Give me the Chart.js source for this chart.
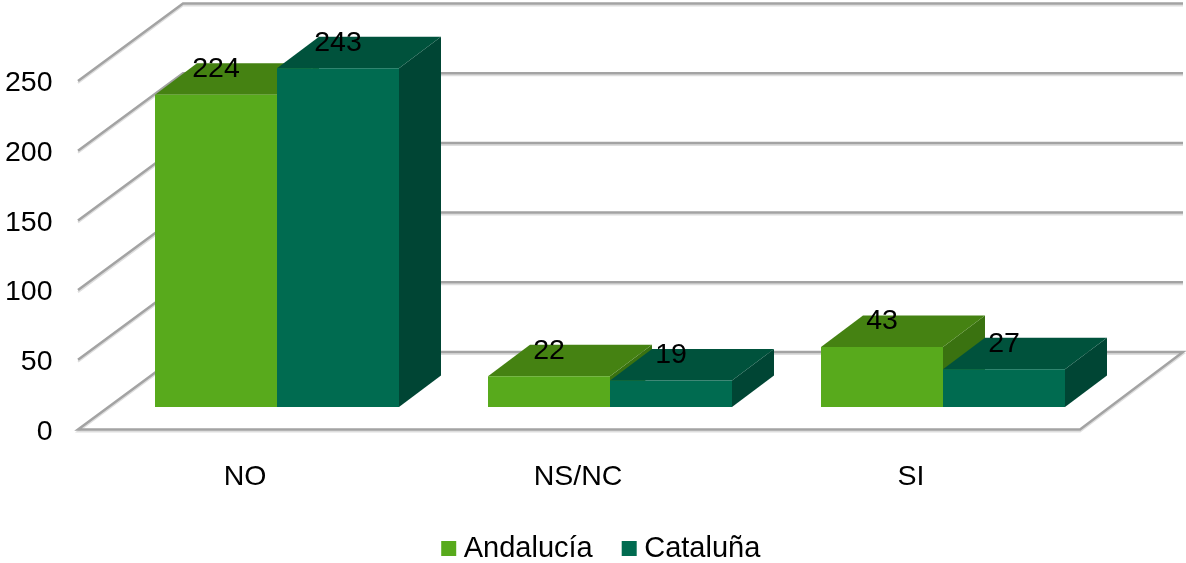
<!DOCTYPE html>
<html lang="es">
<head>
<meta charset="utf-8">
<title>Andalucía / Cataluña</title>
<style>
    html, body { margin: 0; padding: 0; background: #ffffff; }
    canvas { display: block; }
</style>
<script src="https://cdn.jsdelivr.net/npm/chart.js@4"></script>
</head>
<body>
<canvas id="chartRespuestas" width="1186" height="563"></canvas>
<script>
const categorias = ['NO', 'NS/NC', 'SI']
const andalucia = [224, 22, 43]
const cataluna = [243, 19, 27]
const ticksEjeY = [0, 50, 100, 150, 200, 250]

const FUENTE = '"Liberation Sans", Arial, sans-serif'
const TAM_TEXTO = 28.5

// depth of each box and offsets of the floor/wall corners, in pixels
const FONDO_BARRA = { x: 42, y: -31.5 }
const SUELO = { izq: -32.5, der: -29.5, y: 22.5 }
const PARED = { izq: 72.5, der: 73.5, y: -55 }

const caras = [
    { frente: '#58aa1c', arriba: '#458212', lado: '#3a7210' },
    { frente: '#006b50', arriba: '#00523c', lado: '#004534' }
]

function linea(ctx, puntos) {
    // each rule gets a pale offset copy below it, then the grey stroke
    ctx.lineJoin = 'miter'
    ctx.strokeStyle = '#dedede'
    ctx.lineWidth = 2
    ctx.beginPath()
    puntos.forEach((p, i) => i ? ctx.lineTo(p[0], p[1] + 2) : ctx.moveTo(p[0], p[1] + 2))
    ctx.stroke()
    ctx.strokeStyle = '#a3a3a3'
    ctx.lineWidth = 2.5
    ctx.beginPath()
    puntos.forEach((p, i) => i ? ctx.lineTo(p[0], p[1]) : ctx.moveTo(p[0], p[1]))
    ctx.stroke()
}

function poligono(ctx, color, puntos) {
    ctx.fillStyle = color
    ctx.beginPath()
    puntos.forEach((p, i) => i ? ctx.lineTo(p[0], p[1]) : ctx.moveTo(p[0], p[1]))
    ctx.closePath()
    ctx.fill()
}

const caja3d = {
    id: 'caja3d',
    afterLayout(chart) {
        // legend sits lower and further right than its default slot
        const leyenda = chart.legend
        leyenda.top = 498
        leyenda.left += 49.5
        leyenda.right += 49.5
    },
    beforeDatasetsDraw(chart) {
        const { ctx, chartArea, scales } = chart
        const izq = chartArea.left
        const der = chartArea.right

        ctx.save()
        // wall rules, from the front edge back and across
        ticksEjeY.slice(1).forEach(v => {
            const y = scales.y.getPixelForValue(v)
            linea(ctx, [
                [izq + SUELO.izq, y + SUELO.y],
                [izq + PARED.izq, y + PARED.y],
                [der + PARED.der, y + PARED.y]
            ])
        })
        // floor outline
        const y0 = scales.y.getPixelForValue(0)
        linea(ctx, [
            [izq + PARED.izq, y0 + PARED.y],
            [der + PARED.der, y0 + PARED.y],
            [der + SUELO.der, y0 + SUELO.y],
            [izq + SUELO.izq, y0 + SUELO.y],
            [izq + PARED.izq, y0 + PARED.y]
        ])

        // top and side of the boxes, left to right so later ones overlap
        categorias.forEach((_, i) => {
            chart.data.datasets.forEach((_, d) => {
                const barra = chart.getDatasetMeta(d).data[i]
                const mitad = barra.width / 2
                const a = barra.x - mitad
                const b = barra.x + mitad
                const dx = FONDO_BARRA.x
                const dy = FONDO_BARRA.y
                poligono(ctx, caras[d].lado, [
                    [b, barra.y], [b + dx, barra.y + dy], [b + dx, barra.base + dy], [b, barra.base]
                ])
                poligono(ctx, caras[d].arriba, [
                    [a, barra.y], [a + dx, barra.y + dy], [b + dx, barra.y + dy], [b, barra.y]
                ])
            })
        })
        ctx.restore()
    },
    afterDatasetsDraw(chart) {
        const { ctx } = chart
        ctx.save()
        ctx.font = TAM_TEXTO + 'px ' + FUENTE
        ctx.fillStyle = '#000000'
        ctx.textAlign = 'center'
        ctx.textBaseline = 'middle'
        chart.data.datasets.forEach((ds, d) => {
            chart.getDatasetMeta(d).data.forEach((barra, i) => {
                ctx.fillText(ds.data[i], barra.x, barra.y - 25.5)
            })
        })
        ctx.restore()
    }
}

new Chart(document.getElementById('chartRespuestas'), {
    type: 'bar',
    data: {
        labels: categorias,
        datasets: [
            { label: 'Andalucía', data: andalucia, backgroundColor: caras[0].frente, borderWidth: 0 },
            { label: 'Cataluña', data: cataluna, backgroundColor: caras[1].frente, borderWidth: 0 }
        ]
    },
    plugins: [caja3d],
    options: {
        responsive: false,
        animation: false,
        barPercentage: 1,
        categoryPercentage: 244 / 333,
        layout: { padding: { left: 0, right: 76.5, top: 58.5, bottom: 0 } },
        scales: {
            x: {
                grid: { display: false, drawTicks: false },
                border: { display: false },
                afterFit(scale) { scale.height = 81 },
                ticks: {
                    color: '#000000',
                    font: { family: FUENTE, size: TAM_TEXTO },
                    padding: 53,
                    labelOffset: -32,
                    maxRotation: 0
                }
            },
            y: {
                min: 0,
                max: 250,
                grid: { display: false, drawTicks: false },
                border: { display: false },
                afterFit(scale) {
                    // keep the plot area at the layout padding, labels hang outside it
                    scale.width = 110.5
                    scale.paddingTop = 0
                    scale.paddingBottom = 0
                },
                afterBuildTicks(scale) { scale.ticks = ticksEjeY.map(value => ({ value })) },
                ticks: {
                    color: '#000000',
                    font: { family: FUENTE, size: TAM_TEXTO },
                    padding: 58,
                    labelOffset: 25,
                    autoSkip: false
                }
            }
        },
        plugins: {
            tooltip: { enabled: false },
            legend: {
                position: 'bottom',
                labels: {
                    color: '#000000',
                    font: { family: FUENTE, size: 29 },
                    boxWidth: 1,
                    boxHeight: 1,
                    padding: 36,
                    // thick outline around a 1px box gives the 15px swatch and a tight text gap
                    generateLabels(chart) {
                        return Chart.defaults.plugins.legend.labels.generateLabels(chart).map(item => {
                            item.lineWidth = 14
                            item.strokeStyle = item.fillStyle
                            return item
                        })
                    }
                }
            }
        }
    }
})
</script>
</body>
</html>
